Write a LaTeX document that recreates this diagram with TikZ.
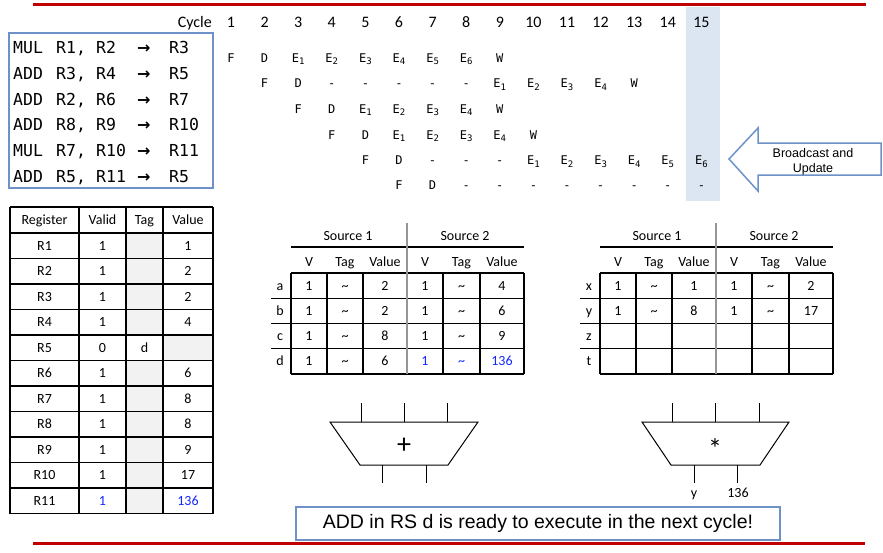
\documentclass[tikz,border=0pt]{standalone}
\usepackage{fontspec}
\setmainfont{Carlito}
\newfontfamily\monof{DejaVu Sans Mono}
\newfontfamily\dvsf{DejaVu Sans}
\newfontfamily\arialf{Liberation Sans}
\definecolor{redline}{RGB}{192,0,0}
\definecolor{boxblue}{RGB}{110,146,200}
\definecolor{colblue}{RGB}{220,230,242}
\definecolor{cellgray}{RGB}{242,242,242}
\definecolor{txtblue}{RGB}{20,40,255}
\definecolor{divgray}{RGB}{150,150,150}
\newcommand\Esub[1]{E\raisebox{-2.5pt}{\fontsize{9}{9}\selectfont #1}}
\begin{document}
\begin{tikzpicture}[x=1pt,y=-1pt,
  ins/.style={font=\monof\fontsize{16.5}{18}\selectfont, anchor=west, inner sep=0, text height=12pt, text depth=0pt},
  pipe/.style={font=\monof\fontsize{12}{13}\selectfont, inner sep=0, text height=8.7pt, text depth=0pt},
  cyc/.style={font=\fontsize{16}{18}\selectfont, inner sep=0, text height=10.3pt, text depth=0pt},
  hdr/.style={font=\fontsize{14}{16}\selectfont, inner sep=0, text height=9pt, text depth=0pt},
  cell/.style={font=\fontsize{14}{16}\selectfont, inner sep=0, text height=9pt, text depth=0pt},
  bc/.style={font=\arialf\fontsize{12.5}{14}\selectfont, inner sep=0, text height=9pt, text depth=0pt},
  grid/.style={line width=1.2pt, black},
  alu/.style={line width=1pt, black}]
\useasboundingbox (0,0) rectangle (883,552);
\fill[white] (0,0) rectangle (883,552);

% highlighted column 15
\fill[colblue] (686,7) rectangle (720,201);

% red rules
\draw[redline, line width=3pt] (33,4.5) -- (866,4.5);
\draw[redline, line width=3pt] (33,543) -- (865,543);

% instruction box
\node[draw=boxblue, line width=1.3pt, minimum width=204pt, minimum height=155pt, inner sep=0] (insbox) at (111,110.5) {};
\foreach \i/\op/\sa/\sb/\dst in {1/MUL/{R1,}/R2/R3, 2/ADD/{R3,}/R4/R5, 3/ADD/{R2,}/R6/R7, 4/ADD/{R8,}/R9/R10, 5/MUL/{R7,}/R10/R11, 6/ADD/{R5,}/R11/R5}{
  \pgfmathsetmacro\yy{47.5+25.8*(\i-1)}
  \node[ins] (op\i) at (13,\yy) {\op};
  \node[ins] (sa\i) at (56,\yy) {\sa};
  \node[ins] (sb\i) at (96,\yy) {\sb};
  \node[ins, font=\dvsf\bfseries\fontsize{16}{18}\selectfont] (ar\i) at (137,\yy) {→};
  \node[ins] (ds\i) at (169,\yy) {\dst};
}

% cycle header
\node[cyc, anchor=east] (cyclab) at (212,22) {Cycle};
\foreach \k in {1,...,15}{
  \node[cyc] (cy\k) at ({231+(\k-1)*33.6},22) {\k};
}

% pipeline rows
\foreach \r/\yy/\lst in {
  1/58/{1/F,2/D,3/{\Esub{1}},4/{\Esub{2}},5/{\Esub{3}},6/{\Esub{4}},7/{\Esub{5}},8/{\Esub{6}},9/W},
  2/83.5/{2/F,3/D,4/-,5/-,6/-,7/-,8/-,9/{\Esub{1}},10/{\Esub{2}},11/{\Esub{3}},12/{\Esub{4}},13/W},
  3/109/{3/F,4/D,5/{\Esub{1}},6/{\Esub{2}},7/{\Esub{3}},8/{\Esub{4}},9/W},
  4/135/{4/F,5/D,6/{\Esub{1}},7/{\Esub{2}},8/{\Esub{3}},9/{\Esub{4}},10/W},
  5/160.5/{5/F,6/D,7/-,8/-,9/-,10/{\Esub{1}},11/{\Esub{2}},12/{\Esub{3}},13/{\Esub{4}},14/{\Esub{5}},15/{\Esub{6}}},
  6/185.5/{6/F,7/D,8/-,9/-,10/-,11/-,12/-,13/-,14/-,15/-}}{
  \foreach \c/\t in \lst{
    \node[pipe] (p\r-\c) at ({231+(\c-1)*33.6},\yy) {\t};
  }
}

% broadcast arrow
\draw[boxblue, line width=1.5pt, fill=white] (729,159) -- (758,128) -- (758,143) -- (881,143) -- (881,175) -- (758,175) -- (758,191) -- cycle;
\node[bc] (bc1) at (813,153) {Broadcast and};
\node[bc] (bc2) at (813,168) {Update};

% register table
\foreach \i in {1,2,3,4,6,7,8,9,10,11}{
  \fill[cellgray] (126,{233+25.5*(\i-1)}) rectangle (163,{233+25.5*\i});
}
\fill[cellgray] (163,{233+25.5*4}) rectangle (213,{233+25.5*5});
\draw[grid] (10,207) -- (213,207);
\foreach \i in {0,...,11}{
  \draw[grid] (10,{233+25.5*\i}) -- (213,{233+25.5*\i});
}
\foreach \x in {10,79,126,163,213}{
  \draw[grid] (\x,207) -- (\x,513.5);
}
\node[hdr] (rhReg) at (44.5,220) {Register};
\node[hdr] (rhVal) at (102.5,220) {Valid};
\node[hdr] (rhTag) at (144.5,220) {Tag};
\node[hdr] (rhVlu) at (188,220) {Value};
\foreach \i/\v/\w in {1/1/1, 2/1/2, 3/1/2, 4/1/4, 5/0/{}, 6/1/6, 7/1/8, 8/1/8, 9/1/9, 10/1/17, 11/{\color{txtblue}1}/{\color{txtblue}136}}{
  \pgfmathsetmacro\yy{233+25.5*(\i-0.5)}
  \node[cell] (rn\i) at (44.5,\yy) {R\i};
  \node[cell] (rv\i) at (102.5,\yy) {\v};
  \node[cell] (rw\i) at (188,\yy) {\w};
}
\node[cell] (rt5) at (144.5,{233+25.5*4.5}) {d};

% reservation station tables
\foreach \tb/\sx/\la/\lb/\lc/\ld in {1/291/a/b/c/d, 2/600/x/y/z/t}{
  \begin{scope}[shift={(\sx,0)}]
    \node[hdr] (s1h\tb) at (57,236) {Source 1};
    \node[hdr] (s2h\tb) at (174,236) {Source 2};
    \draw[line width=1.3pt] (0,247) -- (233,247);
    \node[hdr] (hv1\tb) at (18,262) {V};
    \node[hdr] (ht1\tb) at (54,262) {Tag};
    \node[hdr] (hx1\tb) at (94,262) {Value};
    \node[hdr] (hv2\tb) at (134,262) {V};
    \node[hdr] (ht2\tb) at (170.5,262) {Tag};
    \node[hdr] (hx2\tb) at (211,262) {Value};
    \draw[grid] (0,273) -- (233,273);
    \draw[grid] (-20,298.25) -- (233,298.25);
    \draw[grid] (-20,323.5) -- (233,323.5);
    \draw[grid] (-20,348.75) -- (233,348.75);
    \draw[grid] (0,374) -- (233,374);
    \foreach \x in {0,36,72,152,189,233}{
      \draw[grid] (\x,273) -- (\x,374);
    }
    \draw[divgray, line width=2.2pt] (116,223) -- (116,374);
    \node[cell] (l1\tb) at (-11,285.6) {\la};
    \node[cell] (l2\tb) at (-11,310.9) {\lb};
    \node[cell] (l3\tb) at (-11,336.1) {\lc};
    \node[cell] (l4\tb) at (-11,361.4) {\ld};
  \end{scope}
}
% table 1 values
\foreach \r/\yy/\a/\b/\c/\d/\e/\f in {
  1/285.6/1/\textasciitilde/2/1/\textasciitilde/4,
  2/310.9/1/\textasciitilde/2/1/\textasciitilde/6,
  3/336.1/1/\textasciitilde/8/1/\textasciitilde/9,
  4/361.4/1/\textasciitilde/6/{\color{txtblue}1}/{\color{txtblue}\textasciitilde}/{\color{txtblue}136}}{
  \node[cell] (ta\r a) at (309,\yy) {\a};
  \node[cell] (ta\r b) at (345,\yy) {\b};
  \node[cell] (ta\r c) at (385,\yy) {\c};
  \node[cell] (ta\r d) at (425,\yy) {\d};
  \node[cell] (ta\r e) at (461.5,\yy) {\e};
  \node[cell] (ta\r f) at (502,\yy) {\f};
}
% table 2 values
\foreach \r/\yy/\a/\b/\c/\d/\e/\f in {
  1/285.6/1/\textasciitilde/1/1/\textasciitilde/2,
  2/310.9/1/\textasciitilde/8/1/\textasciitilde/17}{
  \node[cell] (tb\r a) at (618,\yy) {\a};
  \node[cell] (tb\r b) at (654,\yy) {\b};
  \node[cell] (tb\r c) at (694,\yy) {\c};
  \node[cell] (tb\r d) at (734,\yy) {\d};
  \node[cell] (tb\r e) at (770.5,\yy) {\e};
  \node[cell] (tb\r f) at (811,\yy) {\f};
}

% adder
\draw[alu] (330,422) -- (478,422) -- (448,465) -- (360,465) -- cycle;
\node[font=\fontsize{28}{30}\selectfont, inner sep=0] (plus) at (404,446) {+};
\foreach \x in {361,404,447}{ \draw[alu] (\x,403) -- (\x,422); }
\foreach \x in {382,426}{ \draw[alu] (\x,465) -- (\x,483); }

% multiplier
\draw[alu] (642,422) -- (789,422) -- (760,465) -- (671,465) -- cycle;
\node[font=\fontsize{28}{30}\selectfont, inner sep=0] (times) at (715,449) {*};
\foreach \x in {672,715,759}{ \draw[alu] (\x,403) -- (\x,422); }
\coordinate (mo1) at (694,483);
\coordinate (mo2) at (737.5,483);
\draw[alu] (694,465) -- (mo1);
\draw[alu] (737.5,465) -- (mo2);
\node[cell] (moy) at (694,493) {y};
\node[cell] (mov) at (738,493) {136};

% message box
\node[draw=boxblue, line width=1.3pt, minimum width=484pt, minimum height=33pt, inner sep=0,
  font=\arialf\fontsize{19.5}{22}\selectfont] (msg) at (538,523.5) {ADD in RS d is ready to execute in the next cycle!};
\end{tikzpicture}
\end{document}
